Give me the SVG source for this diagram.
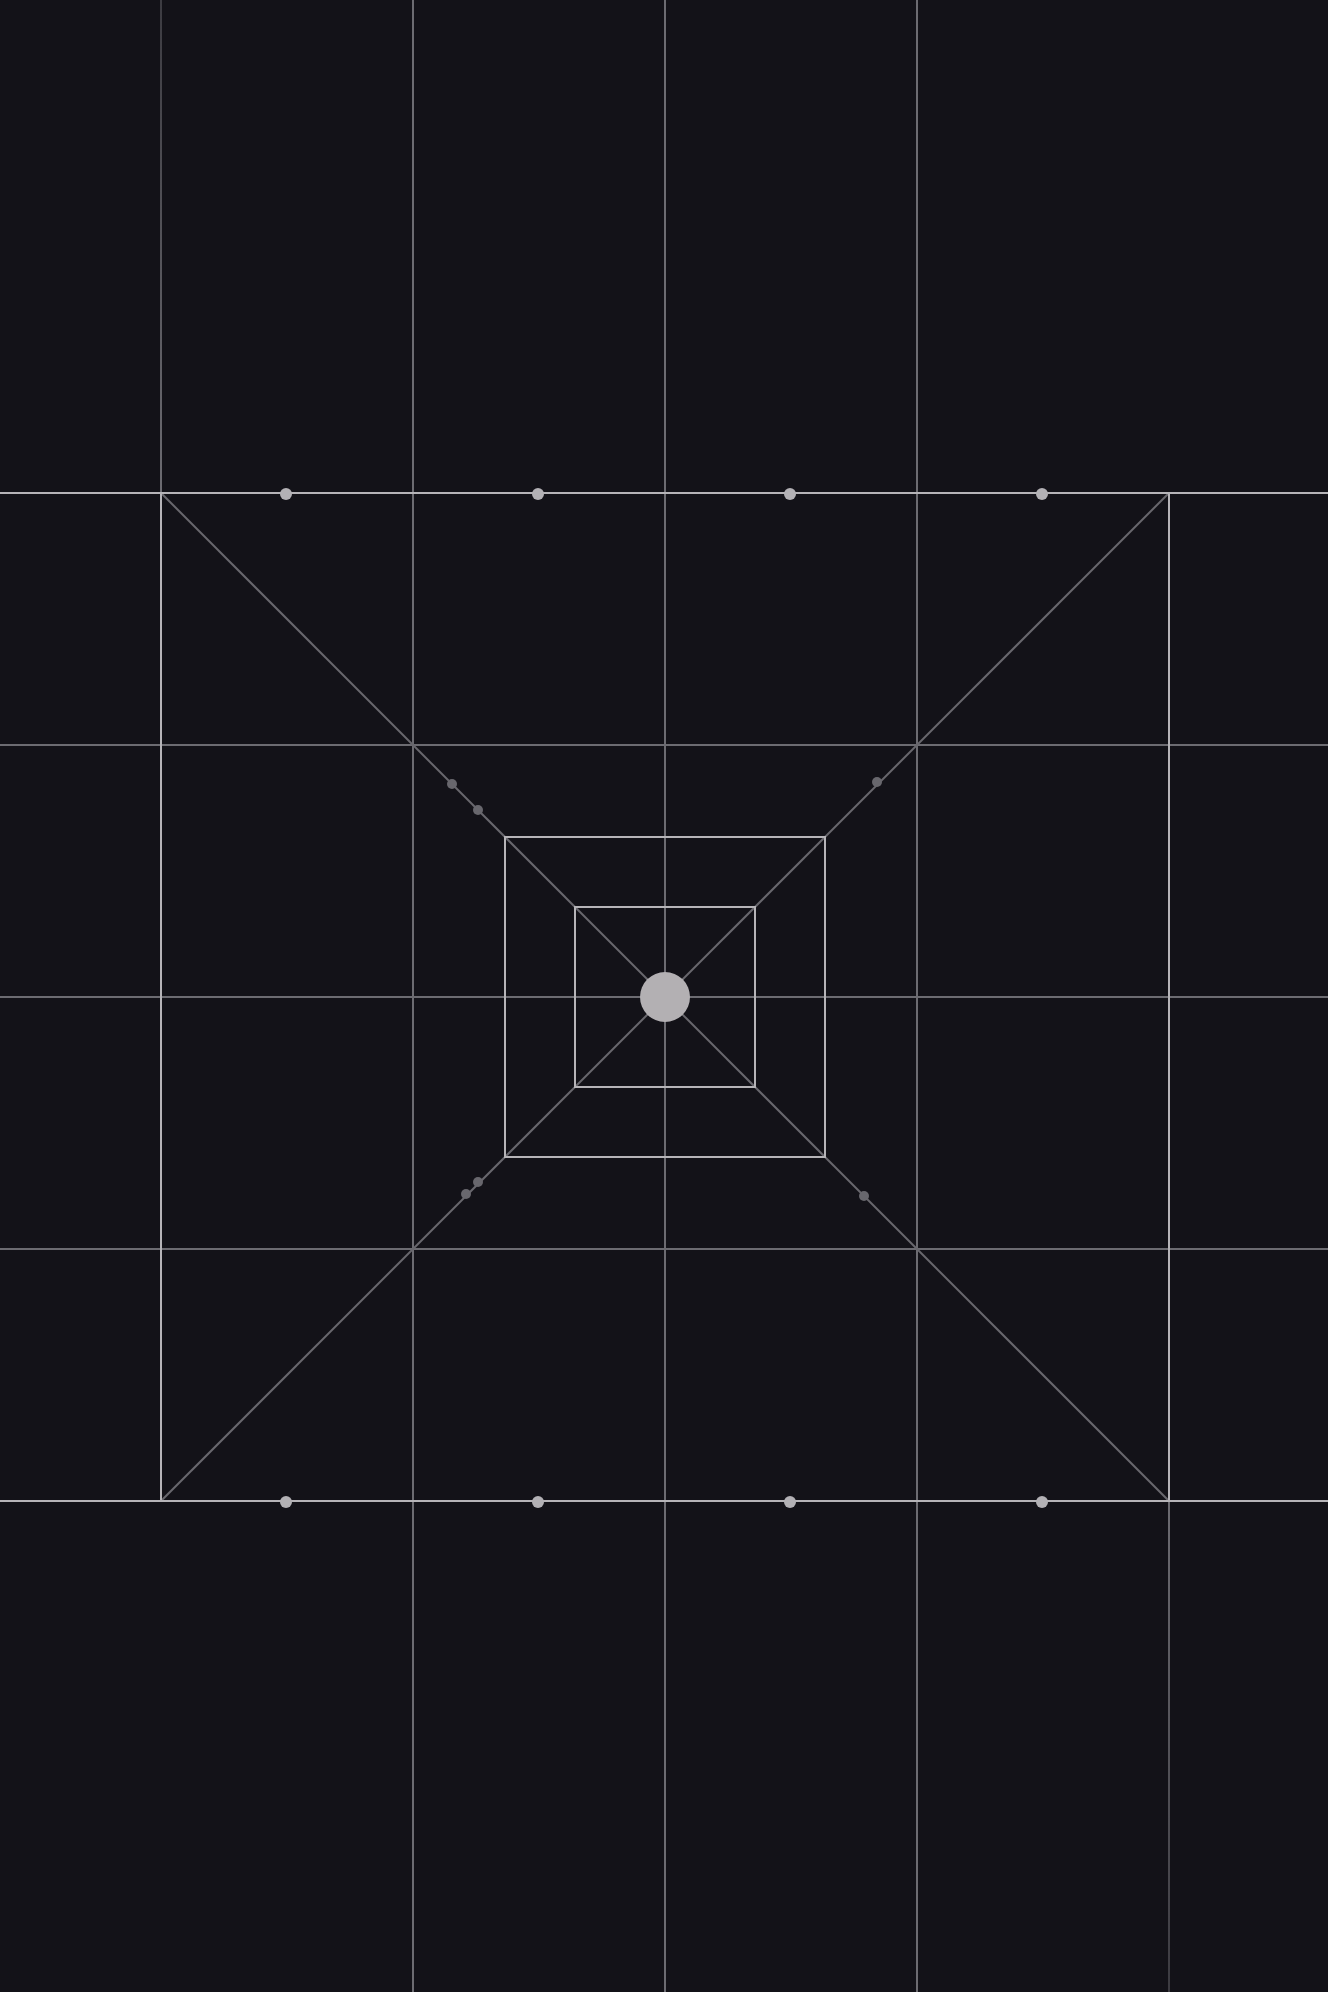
<svg xmlns="http://www.w3.org/2000/svg" width="1328" height="1992" viewBox="0 0 1328 1992">
<defs>
<style>
.g{stroke:#6c6b71;stroke-width:2;fill:none}
.l{stroke:#b6b4b8;stroke-width:2;fill:none}
.d{stroke:#68676d;stroke-width:2;fill:none}
.dot{fill:#b3b1b5}
.sd{fill:#68676d}
</style>
<linearGradient id="fadeTop" gradientUnits="userSpaceOnUse" x1="0" y1="0" x2="0" y2="493">
<stop offset="0" stop-color="#3c3b41"/>
<stop offset="1" stop-color="#6c6b71"/>
</linearGradient>
<linearGradient id="fadeBot" gradientUnits="userSpaceOnUse" x1="0" y1="1501" x2="0" y2="1992">
<stop offset="0" stop-color="#6c6b71"/>
<stop offset="1" stop-color="#3c3b41"/>
</linearGradient>
</defs>
<rect width="1328" height="1992" fill="#131218"/>
<g id="connectors">
<line class="g" x1="413" y1="0" x2="413" y2="1992"/>
<line class="g" x1="665" y1="0" x2="665" y2="1992"/>
<line class="g" x1="917" y1="0" x2="917" y2="1992"/>
<line x1="161" y1="0" x2="161" y2="493" stroke="url(#fadeTop)" stroke-width="2"/>
<line x1="1169" y1="1501" x2="1169" y2="1992" stroke="url(#fadeBot)" stroke-width="2"/>
<line class="g" x1="0" y1="745" x2="1328" y2="745"/>
<line class="g" x1="0" y1="997" x2="1328" y2="997"/>
<line class="g" x1="0" y1="1249" x2="1328" y2="1249"/>
<line class="d" x1="161" y1="493" x2="1169" y2="1501"/>
<line class="d" x1="1169" y1="493" x2="161" y2="1501"/>
<line class="l" x1="0" y1="493" x2="1328" y2="493"/>
<line class="l" x1="0" y1="1501" x2="1328" y2="1501"/>
<line class="l" x1="161" y1="493" x2="161" y2="1501"/>
<line class="l" x1="1169" y1="493" x2="1169" y2="1501"/>
</g>
<g id="outer-square"><rect class="l" x="505" y="837" width="320" height="320"/></g>
<g id="inner-square"><rect class="l" x="575" y="907" width="180" height="180"/></g>
<g id="center"><circle cx="665" cy="997" r="25" fill="#b3b0b3"/></g>
<g id="top-dots">
<circle class="dot" cx="286" cy="494" r="6"/>
<circle class="dot" cx="538" cy="494" r="6"/>
<circle class="dot" cx="790" cy="494" r="6"/>
<circle class="dot" cx="1042" cy="494" r="6"/>
</g>
<g id="bottom-dots">
<circle class="dot" cx="286" cy="1502" r="6"/>
<circle class="dot" cx="538" cy="1502" r="6"/>
<circle class="dot" cx="790" cy="1502" r="6"/>
<circle class="dot" cx="1042" cy="1502" r="6"/>
</g>
<g id="diagonal-dots">
<circle class="sd" cx="452" cy="784" r="5"/>
<circle class="sd" cx="478" cy="810" r="5"/>
<circle class="sd" cx="877" cy="782" r="5"/>
<circle class="sd" cx="478" cy="1182" r="5"/>
<circle class="sd" cx="466" cy="1194" r="5"/>
<circle class="sd" cx="864" cy="1196" r="5"/>
</g>
</svg>
